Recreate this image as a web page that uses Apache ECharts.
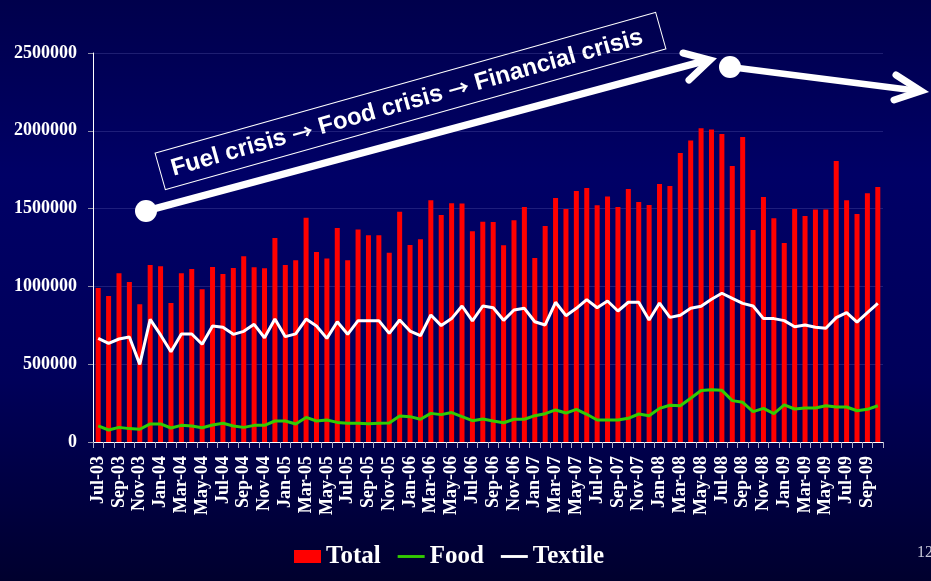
<!DOCTYPE html>
<html>
<head>
<meta charset="utf-8">
<script src="https://cdn.jsdelivr.net/npm/echarts@6/dist/echarts.min.js"></script>
<style>
html,body{margin:0;padding:0;background:#000040;}
#chart{width:931px;height:581px;}
</style>
</head>
<body>
<div id="chart"></div>
<script>
var categories = [
 'Jul-03','Aug-03','Sep-03','Oct-03','Nov-03','Dec-03',
 'Jan-04','Feb-04','Mar-04','Apr-04','May-04','Jun-04','Jul-04','Aug-04','Sep-04','Oct-04','Nov-04','Dec-04',
 'Jan-05','Feb-05','Mar-05','Apr-05','May-05','Jun-05','Jul-05','Aug-05','Sep-05','Oct-05','Nov-05','Dec-05',
 'Jan-06','Feb-06','Mar-06','Apr-06','May-06','Jun-06','Jul-06','Aug-06','Sep-06','Oct-06','Nov-06','Dec-06',
 'Jan-07','Feb-07','Mar-07','Apr-07','May-07','Jun-07','Jul-07','Aug-07','Sep-07','Oct-07','Nov-07','Dec-07',
 'Jan-08','Feb-08','Mar-08','Apr-08','May-08','Jun-08','Jul-08','Aug-08','Sep-08','Oct-08','Nov-08','Dec-08',
 'Jan-09','Feb-09','Mar-09','Apr-09','May-09','Jun-09','Jul-09','Aug-09','Sep-09','Oct-09'
];
var total = [
 990000,938000,1084000,1028000,885000,1138000,
 1129000,893000,1084000,1112000,981000,1125000,1080000,1118000,1193000,1123000,1116000,1311000,
 1138000,1168000,1441000,1221000,1180000,1375000,1168000,1365000,1328000,1328000,1217000,1480000,
 1266000,1303000,1553000,1459000,1534000,1532000,1354000,1416000,1414000,1265000,1425000,1510000,
 1183000,1388000,1568000,1497000,1613000,1632000,1521000,1577000,1510000,1626000,1542000,1523000,
 1658000,1645000,1857000,1937000,2016000,2009000,1980000,1774000,1960000,1363000,1575000,1438000,
 1279000,1497000,1452000,1495000,1495000,1806000,1553000,1465000,1598000,1639000
];
var food = [
 103000,77000,94000,86000,82000,116000,
 116000,90000,107000,103000,92000,109000,120000,103000,94000,107000,107000,135000,
 135000,116000,158000,135000,141000,126000,120000,120000,118000,120000,122000,167000,
 163000,146000,184000,176000,189000,163000,137000,148000,135000,124000,146000,146000,
 169000,182000,206000,186000,210000,178000,141000,141000,141000,152000,180000,169000,
 216000,236000,233000,281000,331000,336000,332000,266000,255000,195000,216000,182000,
 238000,212000,219000,219000,233000,225000,225000,201000,210000,233000
];
var textile = [
 666000,634000,662000,675000,499000,788000,
 688000,580000,694000,694000,628000,746000,737000,692000,711000,756000,670000,790000,
 677000,695000,790000,746000,666000,773000,692000,780000,780000,780000,698000,784000,
 713000,683000,816000,748000,793000,874000,778000,874000,863000,782000,848000,859000,
 773000,752000,898000,812000,859000,915000,863000,906000,842000,898000,898000,784000,
 893000,801000,814000,859000,872000,917000,956000,923000,891000,874000,793000,793000,
 780000,741000,752000,737000,731000,799000,831000,771000,831000,891000
];
var yTicks = [0, 500000, 1000000, 1500000, 2000000, 2500000];
var annotationParts = ['Fuel crisis', 'Food crisis', 'Financial crisis'];

var chart = echarts.init(document.getElementById('chart'), null, {renderer: 'canvas'});
var serif = '"Liberation Serif","Times New Roman",serif';
var sans = '"Liberation Sans",Arial,sans-serif';
var boxAngle = Math.atan2(141, 501);
var richText = '{a|' + annotationParts[0] + ' }{b|\u2192}{a| ' + annotationParts[1] + ' }{b|\u2192}{a| ' + annotationParts[2] + '}';
var lineIcon = 'path://M0,0H30V3.2H0Z';

chart.setOption({
  animation: false,
  backgroundColor: {
    type: 'linear', x: 0, y: 0, x2: 0, y2: 1,
    colorStops: [
      {offset: 0, color: '#00004c'},
      {offset: 0.3, color: '#000066'},
      {offset: 0.65, color: '#00005a'},
      {offset: 1, color: '#00002e'}
    ]
  },
  grid: {left: 93, right: 48, top: 53, bottom: 139, containLabel: false},
  legend: {
    left: 289, top: 539,
    itemWidth: 27, itemHeight: 13, itemGap: 17,
    symbolKeepAspect: true,
    textStyle: {color: '#ffffff', fontFamily: serif, fontWeight: 'bold', fontSize: 25},
    data: [
      {name: 'Total', icon: 'rect', itemStyle: {borderWidth: 0}},
      {name: 'Food', icon: lineIcon},
      {name: 'Textile', icon: lineIcon}
    ]
  },
  xAxis: {
    type: 'category',
    data: categories,
    boundaryGap: true,
    axisLine: {lineStyle: {color: '#ffffff', width: 1}},
    axisTick: {show: true, interval: 0, length: 6, lineStyle: {color: '#b0b0c8', width: 1}},
    axisLabel: {
      interval: 1, rotate: 90, margin: 14,
      color: '#ffffff', fontFamily: serif, fontWeight: 'bold', fontSize: 18
    },
    splitLine: {show: false}
  },
  yAxis: {
    type: 'value',
    min: yTicks[0], max: yTicks[yTicks.length - 1], interval: 500000,
    axisLine: {show: true, lineStyle: {color: '#ffffff', width: 1}},
    axisTick: {show: true, length: 5, lineStyle: {color: '#9090a8'}},
    axisLabel: {
      margin: 16, color: '#ffffff', fontFamily: serif, fontWeight: 'bold', fontSize: 18,
      formatter: function (v) { return String(v); }
    },
    splitLine: {show: true, lineStyle: {color: 'rgba(120,120,200,0.25)', width: 1}}
  },
  series: [
    {
      name: 'Total', type: 'bar', data: total, barWidth: 5,
      itemStyle: {color: '#ff0000'}
    },
    {
      name: 'Food', type: 'line', data: food, symbol: 'none', showSymbol: false,
      lineStyle: {color: '#33cc00', width: 3}, itemStyle: {color: '#33cc00'}
    },
    {
      name: 'Textile', type: 'line', data: textile, symbol: 'none', showSymbol: false,
      lineStyle: {color: '#ffffff', width: 3}, itemStyle: {color: '#ffffff'}
    }
  ],
  graphic: [
    {
      type: 'group', x: 410.5, y: 101, rotation: boxAngle, z: 100,
      children: [
        {type: 'rect', shape: {x: -260, y: -19, width: 520, height: 38},
         style: {fill: null, stroke: '#ffffff', lineWidth: 1}},
        {type: 'text', x: -4, y: 1,
         style: {text: richText, fill: '#ffffff', align: 'center', verticalAlign: 'middle',
                 rich: {
                   a: {fontFamily: sans, fontWeight: 'bold', fontSize: 24, fill: '#ffffff', color: '#ffffff'},
                   b: {fontFamily: '"Noto Sans CJK SC","DejaVu Sans",sans-serif', fontWeight: 'bold', fontSize: 21, fill: '#ffffff', color: '#ffffff'}
                 }}}
      ]
    },
    {type: 'line', z: 100, shape: {x1: 146, y1: 211, x2: 708, y2: 60},
     style: {stroke: '#ffffff', lineWidth: 7.5}},
    {type: 'polyline', z: 100, shape: {points: [[683, 53], [710, 60], [689, 80]]},
     style: {stroke: '#ffffff', lineWidth: 7, lineCap: 'round', lineJoin: 'miter', fill: null}},
    {type: 'circle', z: 101, shape: {cx: 146, cy: 211, r: 11}, style: {fill: '#ffffff'}},
    {type: 'line', z: 100, shape: {x1: 730, y1: 67, x2: 919, y2: 91},
     style: {stroke: '#ffffff', lineWidth: 6.5}},
    {type: 'polyline', z: 100, shape: {points: [[896, 75], [921, 91], [894, 100]]},
     style: {stroke: '#ffffff', lineWidth: 7, lineCap: 'round', lineJoin: 'miter', fill: null}},
    {type: 'circle', z: 101, shape: {cx: 730, cy: 67, r: 11}, style: {fill: '#ffffff'}},
    {type: 'text', z: 100, x: 917, y: 545,
     style: {text: '12', fill: '#c8c8d8', font: '16px ' + serif}}
  ]
});
</script>
</body>
</html>
